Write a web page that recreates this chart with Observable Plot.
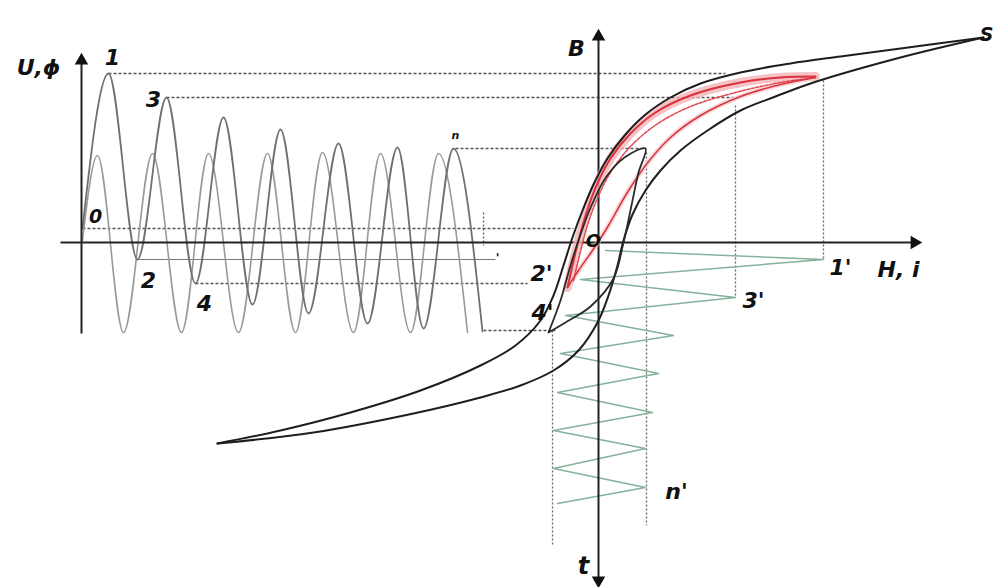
<!DOCTYPE html>
<html>
<head>
<meta charset="utf-8">
<script src="https://cdn.jsdelivr.net/npm/d3@7"></script>
<script src="https://cdn.jsdelivr.net/npm/@observablehq/plot@0.6"></script>
<style>
  html, body { margin: 0; padding: 0; background: #fff; }
  #chart svg { display: block; }
</style>
</head>
<body>
<div id="chart"></div>
<script>
// ---- Data (pixel-space coordinates, y downwards) ----
// Waveform U (decaying amplitude): peaks 1, 3, ... n and troughs 2, 4, ...
const waveA = [[82,228],[108,73],[137,259],[166,97],[195,283],[223,117],[252,304],[280,129],[308,313],[338,143],[367,323],[397,147],[423,328],[453,148],[482,331]];
// Waveform phi (steady amplitude)
const waveB = [[82,240],[97,155],[123,332],[152,153],[181,332],[208,153],[238,332],[267,153],[295,332],[322,152],[353,332],[380,153],[410,332],[438,153],[467,332]];
// Major hysteresis loop: descending branch from S, ascending branch back to S
const outerUpper = [[983,37],[900,48],[840,56],[790,63],[740,72],[700,83],[670,97],[645,114],[625,134],[607,158],[593,184],[582,210],[572,237],[563,265],[553,295],[540,320],[515,345],[480,365],[420,390],[350,412],[280,430],[217,443]];
const outerLower = [[217,443],[313,432],[413,413],[480,397],[520,385],[553,370],[578,350],[597,322],[608,295],[617,265],[623,240],[632,214],[645,190],[660,170],[680,150],[707,130],[740,110],[775,96],[813,82],[900,57],[983,37]];
// Minor loop n
const loopN = [[548,332],[560,300],[570,265],[580,234],[591,205],[606,176],[624,157],[645,148],[638,172],[631,205],[623,242],[613,278],[590,306],[565,322],[548,332]];
// Red loops (1 and 3)
const redLeft = [[567,287],[572,265],[578,240],[586,212],[596,185],[610,158],[630,133],[655,112],[690,95],[740,82],[780,77],[815,76]];
const redRight = [[815,77],[780,84],[740,96],[700,115],[670,137],[645,165],[625,195],[608,225],[592,250],[578,270],[567,287]];
const redInner = [[573,280],[579,255],[586,228],[596,200],[610,172],[630,146],[656,124],[690,106],[735,92],[780,82],[815,77]];
// Magnetising current i(t) drawn down the t axis
const current = [[605,250],[823,259],[580,279],[735,297],[565,315],[673,335],[560,353],[658,373],[557,392],[652,412],[553,430],[645,448],[553,468],[645,487],[557,503]];
// Projection guides [x1,y1,x2,y2]
const guidesDashed = [[108,73,725,73],[166,97,733,97],[455,148,643,148],[82,228,573,228],[195,283,527,283],[483,330,555,330]];
const guidesDotted = [[823,80,823,260],[735,105,735,297],[646,152,646,525],[552,330,552,545],[483,212,483,245]];
const guidesThin = [[137,259,495,259]];
// Axes [x1,y1,x2,y2]
const axes = [[60,242,912,242],[81,333,81,62],[598,38,598,578]];
const arrowHeads = [{x:914,y:242,r:90},{x:81,y:60,r:0},{x:598,y:36,r:0},{x:598,y:580,r:180}];
// Labels
const labels = [
  {t:"U,ϕ", x:38, y:67, s:22},
  {t:"1", x:112, y:57, s:22},
  {t:"3", x:153, y:99, s:22},
  {t:"0", x:95, y:216, s:19},
  {t:"2", x:148, y:280, s:22},
  {t:"4", x:204, y:303, s:22},
  {t:"n", x:455, y:135, s:11},
  {t:"2'", x:541, y:273, s:22},
  {t:"4'", x:542, y:312, s:22},
  {t:"B", x:576, y:48, s:22},
  {t:"O", x:593, y:241, s:18},
  {t:"1'", x:840, y:267, s:22},
  {t:"H, i", x:898, y:269, s:22},
  {t:"3'", x:753, y:300, s:22},
  {t:"n'", x:676, y:491, s:22},
  {t:"t", x:583, y:566, s:24},
  {t:"S", x:986, y:34, s:19},
  {t:"'", x:497, y:258, s:12}
];

const pts = (arr, name) => arr.map(([x, y], i) => ({x, y, name, i}));
const segs = (arr) => arr.map(([x1, y1, x2, y2]) => ({x1, y1, x2, y2}));

const chart = Plot.plot({
  width: 996,
  height: 587,
  margin: 0,
  x: {domain: [0, 996], range: [0, 996], axis: null},
  y: {domain: [0, 587], range: [0, 587], axis: null},
  style: {background: "#fff"},
  marks: [
    // guides
    Plot.link(segs(guidesDashed), {x1:"x1", y1:"y1", x2:"x2", y2:"y2", stroke:"#555", strokeWidth:1.3, strokeDasharray:"3,2"}),
    Plot.link(segs(guidesDotted), {x1:"x1", y1:"y1", x2:"x2", y2:"y2", stroke:"#666", strokeWidth:1.3, strokeDasharray:"2,2"}),
    Plot.link(segs(guidesThin), {x1:"x1", y1:"y1", x2:"x2", y2:"y2", stroke:"#777", strokeWidth:1}),
    // waves
    Plot.line(pts(waveB, "B"), {x:"x", y:"y", curve:"monotone-x", stroke:"#9a9a9a", strokeWidth:1.6}),
    Plot.line(pts(waveA, "A"), {x:"x", y:"y", curve:"monotone-x", stroke:"#707070", strokeWidth:1.8}),
    // current zigzag
    Plot.line(pts(current, "i"), {x:"x", y:"y", stroke:"#86b29c", strokeWidth:1.5}),
    // axes
    Plot.link(segs(axes), {x1:"x1", y1:"y1", x2:"x2", y2:"y2", stroke:"#222", strokeWidth:2}),
    Plot.dot(arrowHeads, {x:"x", y:"y", rotate:"r", symbol:"triangle", r:5, fill:"#111", stroke:"none"}),
    // red band
    Plot.line(pts(redLeft, "band"), {x:"x", y:"y", curve:"catmull-rom", stroke:"#f3b3b8", strokeWidth:9, strokeOpacity:0.8}),
    Plot.line(pts(redRight, "band2"), {x:"x", y:"y", curve:"catmull-rom", stroke:"#f7cdd0", strokeWidth:5, strokeOpacity:0.8}),
    Plot.line(pts(redLeft, "rl"), {x:"x", y:"y", curve:"catmull-rom", stroke:"#d8323c", strokeWidth:2}),
    Plot.line(pts(redInner, "ri"), {x:"x", y:"y", curve:"catmull-rom", stroke:"#e04650", strokeWidth:1.5, strokeDasharray:"3,1.5"}),
    Plot.line(pts(redRight, "rr"), {x:"x", y:"y", curve:"catmull-rom", stroke:"#d8323c", strokeWidth:1.5}),
    // black loops
    Plot.line(pts(outerUpper, "ou"), {x:"x", y:"y", curve:"catmull-rom", stroke:"#1e1e1e", strokeWidth:2}),
    Plot.line(pts(outerLower, "ol"), {x:"x", y:"y", curve:"catmull-rom", stroke:"#1e1e1e", strokeWidth:2}),
    Plot.line(pts(loopN, "n"), {x:"x", y:"y", curve:"catmull-rom", stroke:"#2a2a2a", strokeWidth:1.8}),
    // labels
    Plot.text(labels, {x:"x", y:"y", text:"t", fontSize:"s", fontWeight:"bold", fontStyle:"italic", fontFamily:"DejaVu Sans", fill:"#111", textAnchor:"middle"})
  ]
});
document.getElementById("chart").appendChild(chart);
</script>
</body>
</html>
